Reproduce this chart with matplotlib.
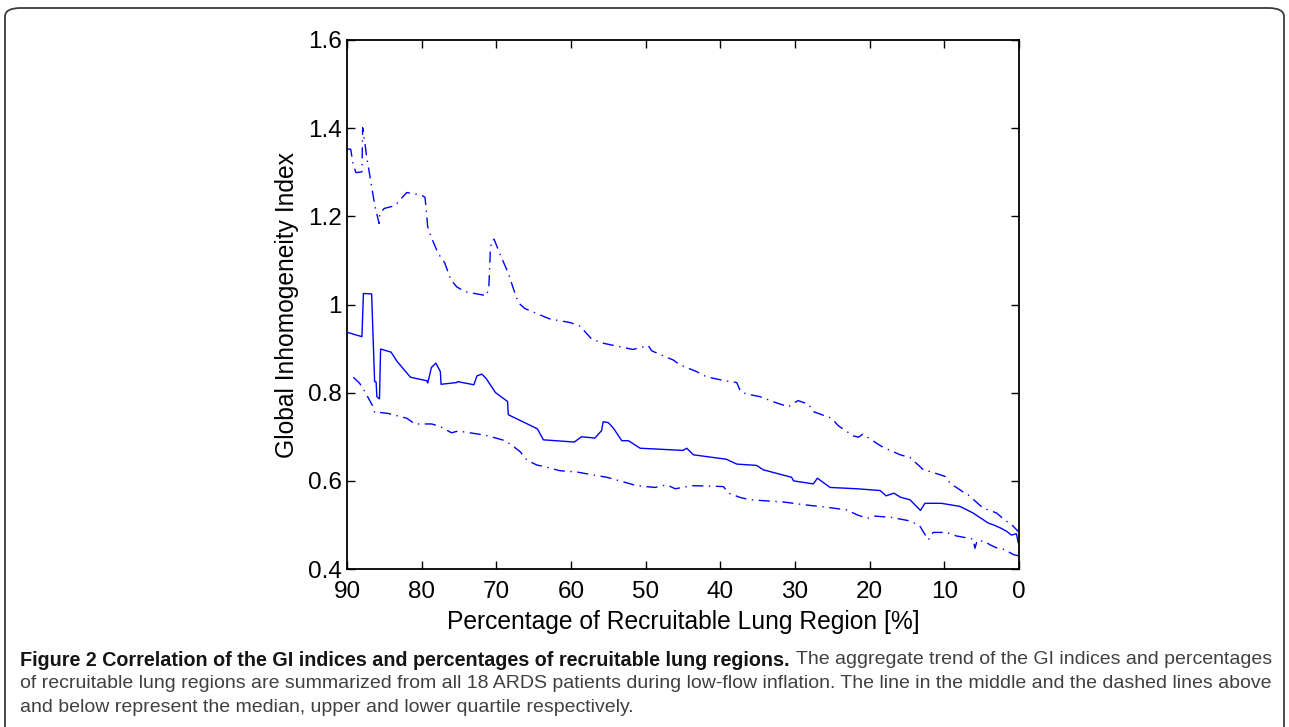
import numpy as np
import matplotlib.pyplot as plt
from matplotlib.patches import FancyBboxPatch
from matplotlib.ticker import FormatStrFormatter

# median GI index vs. recruitable lung region (%)
median_x = [90, 88.0, 87.8, 86.7, 86.5, 86.3, 86.1, 86.0, 85.65, 85.5,
            84.1, 83.3, 81.5, 79.3, 79.2, 79.0, 78.7, 78.1, 77.5, 77.4,
            75.3, 75.2, 73.0, 72.6, 71.95, 71.4, 70.1, 68.5, 68.4, 64.5,
            63.7, 59.55, 58.6, 56.8, 55.9, 55.7, 55.0, 54.3, 53.2, 52.3,
            50.75, 45.0, 44.5, 43.6, 39.2, 37.8, 35.15, 34.25, 30.45, 30.2,
            27.55, 27.0, 25.3, 21.7, 18.6, 17.8, 16.75, 15.9, 14.6, 13.2,
            12.6, 10.4, 7.9, 6.15, 4.1, 3.4, 2.35, 1.7, 1.0, 0.35, 0.1]
median_y = [0.937, 0.927, 1.025, 1.024, 0.923, 0.825, 0.824, 0.791, 0.786, 0.899,
            0.892, 0.871, 0.835, 0.827, 0.822, 0.835, 0.857, 0.867, 0.848, 0.819,
            0.823, 0.825, 0.818, 0.838, 0.842, 0.833, 0.800, 0.780, 0.750, 0.718,
            0.693, 0.688, 0.700, 0.697, 0.714, 0.734, 0.732, 0.719, 0.691, 0.691,
            0.674, 0.669, 0.674, 0.659, 0.649, 0.638, 0.635, 0.625, 0.608, 0.600,
            0.593, 0.606, 0.585, 0.582, 0.578, 0.566, 0.572, 0.563, 0.557, 0.533,
            0.549, 0.549, 0.542, 0.527, 0.504, 0.500, 0.492, 0.486, 0.477, 0.480, 0.460]

# upper quartile
upper_x = [90, 89.5, 89.2, 88.8, 88.0, 87.9, 87.6, 87.4, 86.7, 86.25,
           85.7, 85.6, 85.0, 83.6, 82.7, 82.0, 80.0, 79.55, 79.3, 79.2,
           78.75, 77.8, 76.9, 76.1, 75.3, 74.2, 72.9, 71.3, 71.0, 70.8,
           70.65, 70.3, 69.55, 68.4, 67.5, 67.05, 66.2, 64.1, 62.8, 60.1,
           58.8, 57.2, 55.65, 51.7, 49.65, 49.2, 46.3, 45.4, 43.2, 41.85,
           39.4, 37.8, 37.3, 36.5, 34.7, 32.5, 30.9, 29.6, 28.2, 27.55,
           25.1, 24.2, 22.2, 21.5, 20.9, 19.05, 18.2, 15.9, 14.6, 12.8,
           11.7, 9.9, 9.25, 7.25, 6.8, 4.8, 4.1, 3.0, 1.9, 1.0, 0.1]
upper_y = [1.353, 1.352, 1.320, 1.299, 1.301, 1.401, 1.366, 1.339, 1.267, 1.222,
           1.184, 1.207, 1.218, 1.224, 1.241, 1.254, 1.248, 1.243, 1.199, 1.177,
           1.154, 1.116, 1.094, 1.056, 1.040, 1.029, 1.025, 1.020, 1.040, 1.124,
           1.143, 1.148, 1.116, 1.071, 1.025, 1.004, 0.991, 0.976, 0.967, 0.959,
           0.951, 0.921, 0.912, 0.898, 0.907, 0.895, 0.874, 0.863, 0.848, 0.836,
           0.827, 0.823, 0.803, 0.797, 0.791, 0.777, 0.768, 0.782, 0.774, 0.757,
           0.742, 0.725, 0.702, 0.699, 0.706, 0.685, 0.676, 0.659, 0.653, 0.625,
           0.620, 0.610, 0.595, 0.572, 0.568, 0.538, 0.534, 0.527, 0.511, 0.501, 0.485]

# lower quartile
lower_x = [89.15, 88.3, 87.6, 86.5, 86.3, 85.6, 84.5, 82.0, 80.9, 78.65,
           77.5, 76.0, 75.1, 72.4, 71.1, 68.8, 67.95, 66.8, 65.9, 64.6,
           63.5, 61.5, 59.2, 57.9, 55.2, 53.9, 51.2, 48.75, 47.15, 46.05,
           43.8, 41.3, 39.6, 38.9, 37.3, 36.0, 31.55, 28.4, 25.7, 23.05,
           21.7, 20.35, 19.3, 17.05, 14.6, 13.3, 12.15, 11.5, 9.7, 8.4,
           6.15, 5.9, 5.6, 4.5, 3.9, 3.0, 1.9, 0.8, 0.1]
lower_y = [0.835, 0.821, 0.802, 0.768, 0.755, 0.755, 0.753, 0.742, 0.729, 0.729,
           0.723, 0.709, 0.713, 0.706, 0.702, 0.691, 0.681, 0.666, 0.647, 0.636,
           0.632, 0.623, 0.620, 0.616, 0.608, 0.602, 0.589, 0.585, 0.591, 0.582,
           0.589, 0.588, 0.587, 0.572, 0.562, 0.557, 0.552, 0.545, 0.540, 0.534,
           0.523, 0.515, 0.520, 0.517, 0.509, 0.498, 0.466, 0.483, 0.483, 0.475,
           0.468, 0.447, 0.465, 0.462, 0.455, 0.448, 0.444, 0.433, 0.430]

x_ticks = [90, 80, 70, 60, 50, 40, 30, 20, 10, 0]
y_ticks = [0.4, 0.6, 0.8, 1.0, 1.2, 1.4, 1.6]

W, H = 1289, 727
fig = plt.figure(figsize=(W / 100, H / 100), dpi=100)
plt.rcParams['font.family'] = ['Liberation Sans', 'DejaVu Sans']

# rounded frame around the figure panel (bottom runs off the page)
frame = FancyBboxPatch((5 / W, -0.05), (W - 10) / W, 1 - 8 / H + 0.05,
                       boxstyle="round,pad=0,rounding_size=0.012",
                       transform=fig.transFigure, fill=False,
                       edgecolor="#3c3c3c", linewidth=1.3)
fig.patches.append(frame)

ax = fig.add_axes([347 / W, 1 - 569 / H, (1019 - 347) / W, (569 - 40) / H])
dashdot = (0, (8, 4, 1, 4))
ax.plot(upper_x, upper_y, color="#0000ff", lw=1.0, linestyle=dashdot)
ax.plot(median_x, median_y, color="#0000ff", lw=1.0)
ax.plot(lower_x, lower_y, color="#0000ff", lw=1.0, linestyle=dashdot)

ax.set_xlim(90, 0)
ax.set_ylim(0.4, 1.6)
ax.set_xticks(x_ticks)
ax.set_yticks(y_ticks)
ax.yaxis.set_major_formatter(FormatStrFormatter("%g"))
ax.tick_params(direction="in", length=6, width=1, top=True, right=True,
               labelsize=17.5)
ax.tick_params(axis="x", pad=9)
ax.tick_params(axis="y", pad=4)
for s in ax.spines.values():
    s.set_linewidth(1.3)
ax.set_xlabel("Percentage of Recruitable Lung Region [%]", fontsize=17.7, labelpad=5)
ax.set_ylabel("Global Inhomogeneity Index", fontsize=17.7, labelpad=6)

# caption
x0 = 20 / W
normal_color = "#404040"
bold = fig.text(x0, 1 - 660 / H, "Figure 2 Correlation of the GI indices and percentages of recruitable lung regions.",
                fontsize=14.2, fontweight="bold", color="#151515", va="center")
fig.canvas.draw()
bb = bold.get_window_extent()
fig.text((bb.x1 + 6) / W, 1 - 660 / H, "The aggregate trend of the GI indices and percentages",
         fontsize=14, color=normal_color, va="center")
fig.text(x0, 1 - 684 / H,
         "of recruitable lung regions are summarized from all 18 ARDS patients during low-flow inflation. "
         "The line in the middle and the dashed lines above",
         fontsize=14, color=normal_color, va="center")
fig.text(x0, 1 - 708 / H, "and below represent the median, upper and lower quartile respectively.",
         fontsize=14, color=normal_color, va="center")

fig.savefig("out.png", dpi=100)
